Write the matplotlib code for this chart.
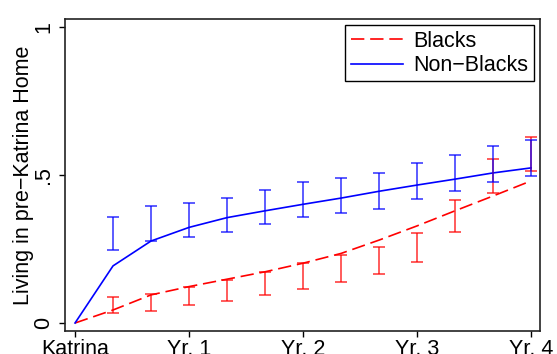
import matplotlib.pyplot as plt
import numpy as np

plt.rcParams['font.family'] = ['Liberation Sans', 'DejaVu Sans']

# time since Katrina (years), one point every 4 months
t = [0, 1/3, 2/3, 1, 4/3, 5/3, 2, 7/3, 8/3, 3, 10/3, 11/3, 4]
blacks = [0, 0.044, 0.095, 0.123, 0.148, 0.173, 0.202, 0.235, 0.280, 0.328, 0.379, 0.429, 0.480]
nonblacks = [0, 0.193, 0.277, 0.323, 0.356, 0.379, 0.401, 0.422, 0.445, 0.466, 0.486, 0.507, 0.524]

# confidence intervals (no bar at Katrina)
t_ci = t[1:]
blacks_lo = [0.033, 0.041, 0.060, 0.073, 0.094, 0.116, 0.139, 0.164, 0.205, 0.306, 0.439, 0.512]
blacks_hi = [0.087, 0.097, 0.123, 0.146, 0.173, 0.202, 0.229, 0.257, 0.303, 0.416, 0.553, 0.627]
nonblacks_lo = [0.245, 0.277, 0.292, 0.306, 0.333, 0.358, 0.370, 0.385, 0.419, 0.446, 0.476, 0.496]
nonblacks_hi = [0.357, 0.396, 0.406, 0.423, 0.450, 0.477, 0.491, 0.506, 0.541, 0.568, 0.598, 0.617]

xticks = [0, 1, 2, 3, 4]
xticklabels = ['Katrina', 'Yr. 1', 'Yr. 2', 'Yr. 3', 'Yr. 4']
yticks = [0, 0.5, 1]
yticklabels = ['0', '.5', '1']

fig = plt.figure(figsize=(5.57, 3.54), dpi=100)
ax = fig.add_axes([65/557, 23/354, 475/557, 312/354])

ax.plot(t, blacks, color='red', lw=1.2, dashes=(8, 3.5), label='Blacks')
ax.plot(t, nonblacks, color='blue', lw=1.2, label='Non\u2212Blacks')

for lo, hi, c in [(blacks_lo, blacks_hi, 'red'), (nonblacks_lo, nonblacks_hi, 'blue')]:
    lo = np.array(lo)
    hi = np.array(hi)
    mid = (lo + hi) / 2
    ax.errorbar(t_ci, mid, yerr=(hi - lo) / 2, fmt='none', ecolor=c,
                elinewidth=1.2, capsize=4.5, capthick=1.2, alpha=0.75)

ax.set_xlim(-0.088, 4.079)
ax.set_ylim(-0.027, 1.027)
ax.set_xticks(xticks)
ax.set_xticklabels(xticklabels)
ax.set_yticks(yticks)
ax.set_yticklabels(yticklabels, rotation=90, va='center')
ax.tick_params(direction='out', length=4, width=1, labelsize=15.5, pad=2)
ax.tick_params(axis='y', pad=4)
for s in ax.spines.values():
    s.set_color('#222222')
    s.set_linewidth(1.2)

ax.set_ylabel('Living in pre\u2212Katrina Home', fontsize=15.5)
ax.yaxis.set_label_coords(-0.065, 0.5)

leg = ax.legend(loc='upper right', fontsize=15.5, frameon=True, fancybox=False,
                edgecolor='black', framealpha=1, handlelength=2.45,
                handletextpad=0.45, labelspacing=0.15, borderpad=0.25,
                borderaxespad=0.3)
leg.get_frame().set_linewidth(1)

fig.savefig('out.png', dpi=100)
